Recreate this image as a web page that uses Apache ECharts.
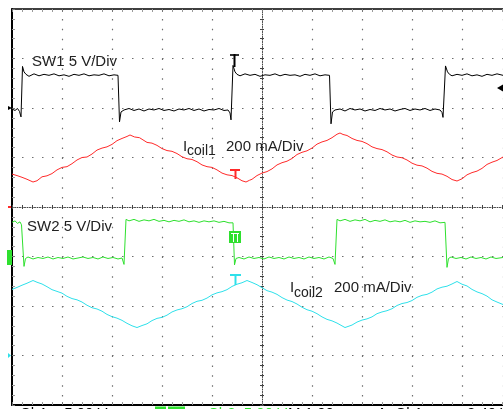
<!DOCTYPE html>
<html><head><meta charset="utf-8">
<script src="https://cdn.jsdelivr.net/npm/echarts@6/dist/echarts.min.js"></script>
<style>html,body{margin:0;padding:0;background:#fff;}#c{width:503px;height:409px;}</style>
</head><body><div id="c"></div>
<script>
// Oscilloscope screen: 10 horizontal divisions (9.82 visible in the crop), 8 vertical divisions
const xVisibleDivisions = 9.82;
const yDivisions = 8;
// channel settings: units per division, ground/zero marker (divisions from bottom)
const channelNames = ['SW1', 'Icoil1', 'SW2', 'Icoil2'];
const channelPerDiv = [5, 200, 5, 200];       // V/div, mA/div, V/div, mA/div
const channelZeroDiv = [6, 4, 3, 1];
const channelLabels = ['SW1 5 V/Div', '200 mA/Div', 'SW2 5 V/Div', '200 mA/Div'];

// SW1 switch-node voltage [time (div), V]
const sw1 = [[0.00,-0.10],[0.06,-0.25],[0.11,-0.05],[0.15,-0.35],[0.18,-0.90],
[0.21,4.20],[0.24,3.65],[0.28,3.40],
[0.34,3.20],[0.44,3.45],[0.54,3.25],[0.64,3.40],[0.74,3.30],[0.84,3.45],[0.94,3.25],[1.04,3.35],[1.14,3.20],[1.24,3.40],[1.34,3.30],[1.44,3.45],[1.54,3.25],[1.64,3.35],[1.74,3.30],[1.84,3.45],[1.94,3.25],[2.04,3.35],[2.12,3.30],
[2.15,-1.40],[2.18,-0.40],
[2.24,-0.20],[2.34,-0.05],[2.44,-0.25],[2.54,-0.10],[2.64,-0.30],[2.74,-0.10],[2.84,-0.20],[2.94,-0.05],[3.04,-0.25],[3.14,-0.15],[3.24,-0.30],[3.34,-0.10],[3.44,-0.20],[3.54,-0.05],[3.64,-0.25],[3.74,-0.10],[3.84,-0.30],[3.94,-0.15],[4.04,-0.20],[4.14,-0.05],[4.24,-0.25],[4.32,-0.20],[4.36,-0.50],[4.38,-1.20],
[4.42,4.30],[4.46,3.65],[4.50,3.40],
[4.56,3.25],[4.66,3.45],[4.76,3.30],[4.86,3.40],[4.96,3.20],[5.06,3.35],[5.16,3.30],[5.26,3.45],[5.36,3.25],[5.46,3.40],[5.56,3.30],[5.66,3.35],[5.76,3.20],[5.86,3.40],[5.96,3.30],[6.06,3.45],[6.16,3.25],[6.26,3.35],[6.35,3.30],
[6.38,-1.60],[6.41,-0.40],
[6.46,-0.20],[6.56,-0.10],[6.66,-0.30],[6.76,-0.05],[6.86,-0.20],[6.96,-0.10],[7.06,-0.30],[7.16,-0.15],[7.26,-0.25],[7.36,-0.05],[7.46,-0.20],[7.56,-0.10],[7.66,-0.30],[7.76,-0.15],[7.86,-0.05],[7.96,-0.25],[8.06,-0.10],[8.16,-0.20],[8.26,-0.05],[8.36,-0.25],[8.46,-0.10],[8.56,-0.20],[8.60,-0.45],[8.62,-0.95],
[8.67,4.25],[8.71,3.65],[8.75,3.40],
[8.80,3.25],[8.90,3.40],[9.00,3.30],[9.10,3.45],[9.20,3.25],[9.30,3.35],[9.40,3.20],[9.50,3.40],[9.60,3.30],[9.70,3.45],[9.82,3.30]];

// Icoil1 inductor current [time (div), mA]
const icoil1 = [[0.00,133],[0.10,127],[0.20,120],[0.30,112],[0.42,101],[0.50,106],[0.60,122],[0.70,126],[0.80,135],[0.90,150],[1.00,160],[1.10,163],[1.20,175],[1.30,190],[1.40,200],[1.50,202],[1.60,214],[1.70,230],[1.80,238],[1.90,243],[2.00,253],[2.10,268],[2.20,277],[2.30,285],[2.36,291],[2.45,283],[2.55,280],[2.70,261],[2.80,258],[2.90,249],[3.00,236],[3.10,228],[3.20,225],[3.30,216],[3.40,203],[3.50,195],[3.60,192],[3.70,183],[3.80,170],[3.90,163],[4.00,160],[4.10,150],[4.20,137],[4.30,130],[4.40,127],[4.50,118],[4.60,106],[4.68,101],[4.75,108],[4.80,112],[4.90,127],[5.00,137],[5.10,143],[5.20,154],[5.30,170],[5.40,179],[5.50,185],[5.60,196],[5.70,212],[5.80,221],[5.90,227],[6.00,238],[6.10,254],[6.20,263],[6.30,269],[6.40,280],[6.50,294],[6.56,299],[6.62,293],[6.70,289],[6.80,277],[6.90,269],[7.00,265],[7.10,256],[7.20,243],[7.30,236],[7.40,232],[7.50,223],[7.60,210],[7.70,202],[7.80,199],[7.90,190],[8.00,177],[8.10,169],[8.20,166],[8.30,157],[8.40,144],[8.50,136],[8.60,133],[8.70,124],[8.80,111],[8.90,105],[9.00,114],[9.10,130],[9.20,139],[9.30,145],[9.40,156],[9.50,172],[9.60,181],[9.70,188],[9.82,202]];

// SW2 switch-node voltage [time (div), V]
const sw2 = [[0.00,3.45],[0.06,3.60],[0.11,3.35],[0.16,3.50],[0.19,3.20],[0.22,3.10],[0.24,-1.00],[0.27,-0.20],
[0.32,-0.05],[0.42,-0.25],[0.52,-0.10],[0.62,-0.20],[0.72,-0.05],[0.82,-0.25],[0.92,-0.10],[1.02,-0.20],[1.12,-0.05],[1.22,-0.25],[1.32,-0.15],[1.42,-0.05],[1.52,-0.20],[1.62,-0.10],[1.72,-0.25],[1.82,-0.05],[1.92,-0.20],[2.02,-0.10],[2.12,-0.25],[2.20,-0.15],[2.24,-0.80],
[2.28,3.75],[2.34,3.60],
[2.44,3.75],[2.54,3.55],[2.64,3.70],[2.74,3.60],[2.84,3.75],[2.94,3.55],[3.04,3.65],[3.14,3.50],[3.24,3.65],[3.34,3.55],[3.44,3.70],[3.54,3.50],[3.64,3.60],[3.74,3.45],[3.84,3.60],[3.94,3.50],[4.04,3.60],[4.14,3.45],[4.24,3.55],[4.34,3.40],[4.42,3.40],
[4.45,-0.85],[4.48,-0.20],
[4.54,-0.10],[4.64,-0.25],[4.74,-0.05],[4.84,-0.20],[4.94,-0.10],[5.04,-0.25],[5.14,-0.05],[5.24,-0.20],[5.34,-0.10],[5.44,-0.25],[5.54,-0.05],[5.64,-0.20],[5.74,-0.10],[5.84,-0.25],[5.94,-0.05],[6.04,-0.20],[6.14,-0.10],[6.24,-0.25],[6.34,-0.05],[6.42,-0.20],[6.46,-0.80],
[6.50,3.75],[6.56,3.60],
[6.66,3.75],[6.76,3.55],[6.86,3.70],[6.96,3.60],[7.06,3.75],[7.16,3.50],[7.26,3.65],[7.36,3.55],[7.46,3.70],[7.56,3.50],[7.66,3.60],[7.76,3.50],[7.86,3.65],[7.96,3.45],[8.06,3.60],[8.16,3.50],[8.26,3.55],[8.36,3.45],[8.46,3.60],[8.56,3.40],[8.66,3.45],
[8.70,-1.10],[8.73,-0.20],
[8.78,-0.05],[8.88,-0.20],[8.98,-0.10],[9.08,-0.25],[9.18,-0.05],[9.28,-0.20],[9.38,-0.10],[9.48,-0.25],[9.58,-0.05],[9.68,-0.20],[9.82,-0.10]];

// Icoil2 inductor current [time (div), mA]
const icoil2 = [[0.00,267],[0.10,275],[0.20,284],[0.30,292],[0.42,303],[0.50,296],[0.60,289],[0.70,278],[0.80,266],[0.90,259],[1.00,252],[1.10,239],[1.20,230],[1.30,225],[1.40,216],[1.50,203],[1.60,193],[1.70,188],[1.80,179],[1.90,166],[2.00,157],[2.10,151],[2.20,142],[2.30,130],[2.40,120],[2.50,113],[2.60,121],[2.70,128],[2.80,141],[2.90,150],[3.00,154],[3.10,163],[3.20,176],[3.30,184],[3.40,189],[3.50,197],[3.60,210],[3.70,219],[3.80,223],[3.90,232],[4.00,245],[4.10,253],[4.20,258],[4.30,266],[4.40,279],[4.50,288],[4.60,294],[4.70,303],[4.80,295],[4.90,286],[5.00,274],[5.10,262],[5.20,256],[5.30,247],[5.40,234],[5.50,224],[5.60,218],[5.70,208],[5.80,195],[5.90,185],[6.00,179],[6.10,169],[6.20,156],[6.30,146],[6.40,140],[6.50,131],[6.66,113],[6.80,123],[6.90,135],[7.00,143],[7.10,148],[7.20,156],[7.30,169],[7.40,176],[7.50,181],[7.60,189],[7.70,202],[7.80,210],[7.90,214],[8.00,222],[8.10,235],[8.20,243],[8.30,247],[8.40,256],[8.50,269],[8.60,276],[8.70,280],[8.80,289],[8.90,299],[9.00,288],[9.10,281],[9.20,267],[9.30,257],[9.40,250],[9.50,240],[9.60,225],[9.70,216],[9.82,206]];

const traces = [sw1, icoil1, sw2, icoil2];
const traceColors = ['#000000', '#ff2a2a', '#2ee02e', '#2ee0ea'];

const FONT = '"Liberation Sans", Arial, sans-serif';
const chart = echarts.init(document.getElementById('c'), null, {renderer: 'canvas'});

const gridCfg = {left: 12, top: 9, right: 0, bottom: 4};
const dotColor = '#6e6e6e';
const frameAxis = (extra) => Object.assign({
  type: 'value', min: 0, max: xVisibleDivisions, interval: 1,
  axisLabel: {show: false}, splitLine: {show: false},
  axisLine: {show: true, onZero: false, lineStyle: {color: '#000', width: 2}},
  axisTick: {show: true, inside: true, length: 3, lineStyle: {color: '#777'}},
  minorTick: {show: true, splitNumber: 5, length: 3, lineStyle: {color: '#999'}}
}, extra);

const xAxes = [
  frameAxis({position: 'bottom',
    splitLine: {show: true, lineStyle: {color: dotColor, width: 1.2, type: [1.5, 8.4]}}}),
  frameAxis({position: 'top', axisLine: {show: true, onZero: false, lineStyle: {color: '#000', width: 1.5}}}),
  frameAxis({position: 'bottom', offset: -198, axisLine: {show: true, onZero: false, lineStyle: {color: '#444', width: 1, type: [1, 1.5]}},
    axisTick: {show: true, inside: false, length: 2, lineStyle: {color: '#444'}},
    minorTick: {show: true, splitNumber: 5, length: 2, lineStyle: {color: '#444'}}}),
  frameAxis({position: 'bottom', offset: -198, axisLine: {show: false},
    axisTick: {show: true, inside: true, length: 2, lineStyle: {color: '#444'}},
    minorTick: {show: true, splitNumber: 5, length: 2, lineStyle: {color: '#444'}}})
];
const yFrame = (extra) => frameAxis(Object.assign({max: yDivisions}, extra));
const yAxes = [
  yFrame({position: 'left',
    splitLine: {show: true, lineStyle: {color: dotColor, width: 1.2, type: [1.5, 8.5]}}}),
  yFrame({position: 'left', offset: -250, axisLine: {show: true, onZero: false, lineStyle: {color: '#444', width: 1, type: [1, 1.5]}},
    axisTick: {show: true, inside: false, length: 2, lineStyle: {color: '#444'}},
    minorTick: {show: true, splitNumber: 5, length: 2, lineStyle: {color: '#444'}}}),
  yFrame({position: 'left', offset: -250, axisLine: {show: false},
    axisTick: {show: true, inside: true, length: 2, lineStyle: {color: '#444'}},
    minorTick: {show: true, splitNumber: 5, length: 2, lineStyle: {color: '#444'}}})
];
// one hidden value axis per channel, scaled so that the channel's units map onto the screen
channelNames.forEach((n, i) => {
  yAxes.push({type: 'value', show: false, name: n,
    min: -channelZeroDiv[i] * channelPerDiv[i],
    max: (yDivisions - channelZeroDiv[i]) * channelPerDiv[i]});
});

const series = traces.map((d, i) => ({
  name: channelNames[i], type: 'line', xAxisIndex: 0, yAxisIndex: 3 + i,
  data: d, showSymbol: false, symbol: 'none', smooth: false, silent: true,
  lineStyle: {color: traceColors[i], width: 1}, z: 5 - i * 0.1
}));

function txt(x, y, s, size, color, extra) {
  return Object.assign({type: 'text', x: x, y: y, z: 20,
    style: {text: s, fill: color || '#222', font: size + 'px ' + FONT, textVerticalAlign: 'middle', textAlign: 'left'}}, extra || {});
}
function rect(x, y, w, h, color) {
  return {type: 'rect', shape: {x: x, y: y, width: w, height: h}, style: {fill: color}, z: 21};
}
function poly(pts, color) {
  return {type: 'polygon', shape: {points: pts}, style: {fill: color}, z: 21};
}

const graphics = [
  // channel labels
  txt(32, 61.5, channelLabels[0], 15),
  txt(183, 146.5, 'I', 15), txt(187, 151, 'coil1', 14), txt(226, 146.5, channelLabels[1], 15),
  txt(27, 227, channelLabels[2], 15),
  txt(290, 288, 'I', 15), txt(294, 293, 'coil2', 14), txt(334, 288, channelLabels[3], 15),
  // ground markers on the left
  poly([[8, 106], [12, 108], [8, 110]], '#000'),
  rect(8, 206, 3, 2, '#ff2a2a'),
  rect(7, 250, 5, 15, '#2ee02e'),
  poly([[8, 353], [11, 355.5], [8, 358]], '#2ee0ea'),
  // trigger level arrow on the right
  poly([[497, 88], [503, 84.5], [503, 91.5]], '#000'),
  // trigger-point T markers
  rect(230, 54, 9, 2, '#333'), rect(233.5, 54, 2, 13, '#000'),
  rect(230, 169, 10, 2, '#ff2a2a'), rect(234.5, 169, 2, 10, '#ff2a2a'),
  rect(229, 231, 12, 12, '#2ee02e'), rect(231, 233, 8, 1, '#fff'), rect(233, 234, 1, 8, '#fff'), rect(237, 234, 1, 8, '#fff'),
  rect(230, 274, 11, 2, '#2ee0ea'), rect(234.5, 274, 2, 11, '#2ee0ea'),
  // status line (cut off at the bottom of the screenshot)
  txt(20, 413.8, 'Ch1    5.00 V', 15, '#000'),
  rect(155, 406.5, 11, 6, '#2ee02e'), rect(168, 406.5, 17, 6, '#2ee02e'),
  txt(208, 413.8, 'Ch2  5.00 V', 15, '#2ee02e'),
  txt(288, 413.8, 'M 1.00\u00b5s', 15, '#000'),
  txt(377, 413.8, 'A  Ch1', 15, '#000'),
  txt(467, 413.8, '2.40 V', 15, '#000')
];

chart.setOption({
  animation: false,
  backgroundColor: '#fff',
  grid: gridCfg,
  xAxis: xAxes,
  yAxis: yAxes,
  series: series,
  graphic: graphics
});
</script></body></html>
